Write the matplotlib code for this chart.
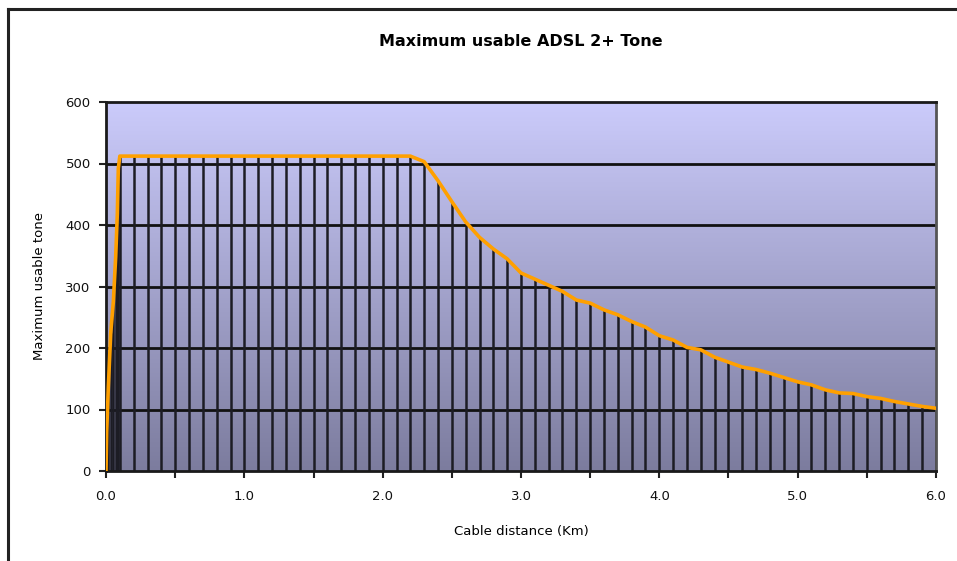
import numpy as np
import matplotlib
matplotlib.use('Agg')
import matplotlib.pyplot as plt
from matplotlib.colors import LinearSegmentedColormap
from matplotlib.lines import Line2D

# cable distance (km) and maximum usable tone
rise_km = [0.0, 0.005, 0.017, 0.034, 0.053, 0.07, 0.082, 0.089]
rise_tone = [0, 64, 137, 224, 275, 348, 419, 492]

flat_km = [0.1, 0.2, 0.3, 0.4, 0.5, 0.6, 0.7, 0.8, 0.9, 1.0, 1.1,
           1.2, 1.3, 1.4, 1.5, 1.6, 1.7, 1.8, 1.9, 2.0, 2.1, 2.2]
flat_tone = [512] * len(flat_km)

fall_km = [2.3, 2.4, 2.5, 2.6, 2.7, 2.8, 2.9, 3.0, 3.1, 3.2, 3.3, 3.4, 3.5,
           3.6, 3.7, 3.8, 3.9, 4.0, 4.1, 4.2, 4.3, 4.4, 4.5, 4.6, 4.7, 4.8,
           4.9, 5.0, 5.1, 5.2, 5.3, 5.4, 5.5, 5.6, 5.7, 5.8, 5.9, 6.0]
fall_tone = [503, 472, 438, 405, 380, 361, 345, 322, 312, 302, 292, 278, 273,
             262, 254, 243, 234, 220, 213, 201, 197, 185, 177, 169, 165, 159,
             152, 145, 140, 132, 127, 126, 121, 118, 113, 109, 105, 102]

km = np.array(rise_km + flat_km + fall_km)
tone = np.array(rise_tone + flat_tone + fall_tone)

x_ticks = [0.0, 0.5, 1.0, 1.5, 2.0, 2.5, 3.0, 3.5, 4.0, 4.5, 5.0, 5.5, 6.0]
x_labels = ['0.0', '', '1.0', '', '2.0', '', '3.0', '', '4.0', '', '5.0', '', '6.0']
y_ticks = [0, 100, 200, 300, 400, 500, 600]

W, H = 957, 561
fig = plt.figure(figsize=(W / 100, H / 100), dpi=100)
fig.patch.set_facecolor('white')

# outer chart frame: only the top and left edges show in the picture
fx, fy = 8 / W, 1 - 9 / H
fig.lines.append(Line2D([fx, 1.01], [fy, fy], transform=fig.transFigure,
                        color='#222222', linewidth=2.2))
fig.lines.append(Line2D([fx, fx], [-0.01, fy], transform=fig.transFigure,
                        color='#222222', linewidth=2.2))

ax = fig.add_axes([106 / W, 1 - 471 / H, 830 / W, 369 / H])

cmap = LinearSegmentedColormap.from_list('bg', ['#7c7c9e', '#cbcbfb'])
grad = np.linspace(0, 1, 256).reshape(-1, 1)
ax.imshow(grad, cmap=cmap, aspect='auto', origin='lower',
          extent=[0, 6, 0, 600], zorder=0)

for yv in y_ticks[1:-1]:
    ax.axhline(yv, color='#111111', linewidth=2, zorder=1)

ax.vlines(km, 0, tone, colors='#1c1c24', linewidth=1.8, zorder=2)
ax.plot(km, tone, color='#ffa000', linewidth=2.6, zorder=3,
        solid_joinstyle='round')

ax.set_xlim(0, 6)
ax.set_ylim(0, 600)
ax.set_xticks(x_ticks)
ax.set_xticklabels(x_labels)
ax.set_yticks(y_ticks)
ax.tick_params(axis='both', direction='out', length=5, width=1.5,
               labelsize=9.5, color='#222222', labelcolor='#111111')
ax.tick_params(axis='x', pad=9)
ax.tick_params(axis='y', pad=6)

for side in ['top', 'bottom', 'left']:
    ax.spines[side].set_color('#1a1a1a')
    ax.spines[side].set_linewidth(2)
ax.spines['right'].set_color('#555555')
ax.spines['right'].set_linewidth(2)

fig.text(0.5 * (106 + 936) / W, 1 - 42 / H, 'Maximum usable ADSL 2+ Tone',
         ha='center', va='center', fontsize=11.5, fontweight='bold')
fig.text(0.5 * (106 + 936) / W, 1 - 532 / H, 'Cable distance (Km)',
         ha='center', va='center', fontsize=9.5)
fig.text(40 / W, 1 - 286 / H, 'Maximum usable tone', rotation=90,
         ha='center', va='center', fontsize=9.5)

fig.savefig('out.png', dpi=100)
